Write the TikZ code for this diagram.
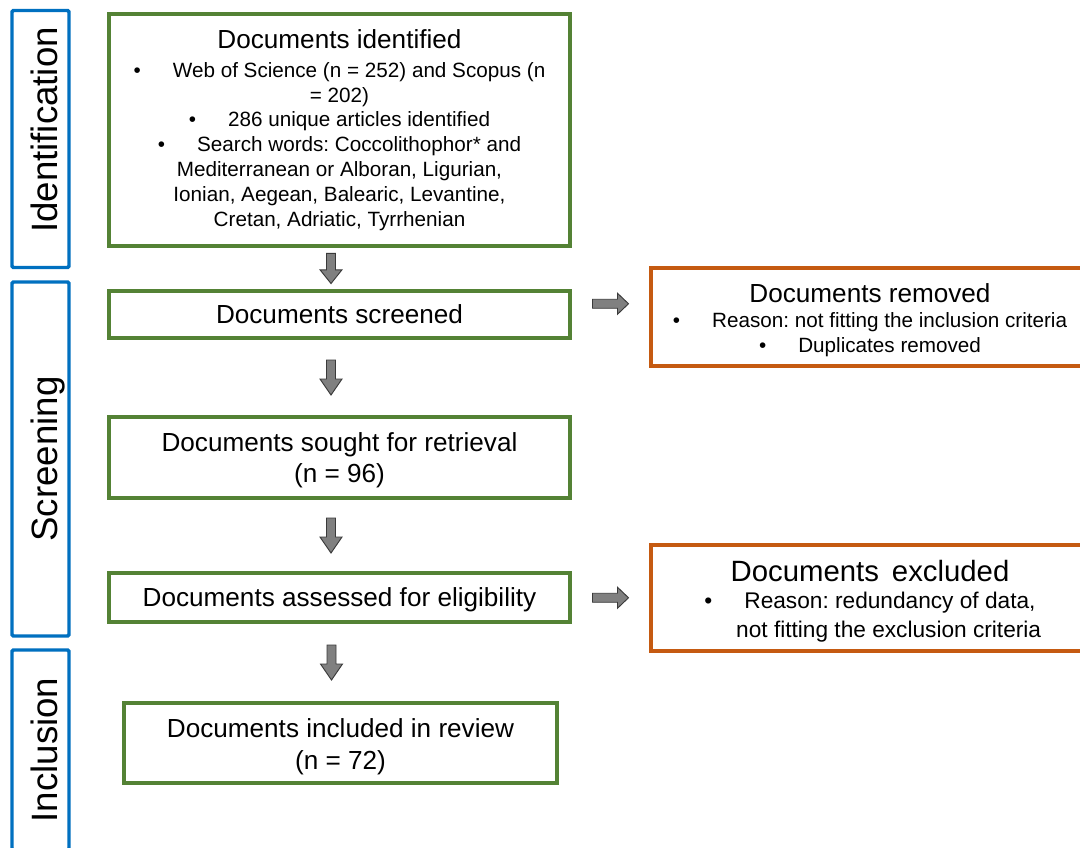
\documentclass[tikz,border=0pt]{standalone}
\usepackage{fontspec}
\setmainfont{Liberation Sans}
\usetikzlibrary{calc}
\definecolor{gbox}{HTML}{548235}
\definecolor{bbox}{HTML}{0070C0}
\definecolor{obox}{HTML}{C55A11}
\definecolor{agray}{HTML}{808080}
\definecolor{aedge}{HTML}{3A3A3A}
\tikzset{
  greenbox/.style={draw=gbox, line width=2.4pt, fill=white, align=center, inner sep=0pt, minimum width=345.75pt},
  orangebox/.style={draw=obox, line width=2.4pt, fill=white, align=center, inner sep=0pt, minimum width=328.5pt},
  phasebox/.style={draw=bbox, line width=2.6pt, rounded corners=1pt, fill=white, rotate=90, inner sep=0pt,
     minimum height=42.75pt, text height=25pt, text depth=0pt, font=\fontsize{27.5}{30}\selectfont},
  bigtext/.style={font=\fontsize{19.6}{24.75}\selectfont},
  darr/.pic={\draw[fill=agray, draw=aedge, line width=0.7pt, line join=miter]
     (-4.5,-17.5) -- (4.5,-17.5) -- (4.5,1.5) -- (11,1.5) -- (0,17.5) -- (-11,1.5) -- (-4.5,1.5) -- cycle;},
  rarr/.pic={\draw[fill=agray, draw=aedge, line width=0.7pt, line join=miter]
     (-18,-4.5) -- (7,-4.5) -- (7,-10.5) -- (18,0) -- (7,10.5) -- (7,4.5) -- (-18,4.5) -- cycle;}
}
\newcommand{\bul}{\textbullet\hspace{24pt}}
\frenchspacing
\begin{document}
\begin{tikzpicture}[x=0.75pt, y=-0.75pt]
\useasboundingbox (0,0) rectangle (1080,847);
\clip (0,0) rectangle (1080,847);
\fill[white] (0,0) rectangle (1080,847);

% phase labels
\node[phasebox, minimum width=192.75pt] (ph1) at (40.5,139) {\hspace*{13.5pt}Identification};
\node[phasebox, minimum width=265.5pt] (ph2) at (40.5,459) {Screening};
\node[phasebox, minimum width=150pt] (ph3) at (40.5,750) {Inclusion};

% main flow
\node[greenbox, minimum height=174pt, font=\fontsize{15.5}{18.6}\selectfont] (n1) at (339.5,130) {%
{\fontsize{19.6}{18.6}\selectfont Documents identified}\\[3pt]
\bul Web of Science (n = 252) and Scopus (n\\
= 202)\\
\bul 286 unique articles identified\\
\bul Search words: Coccolithophor* and\\
Mediterranean or Alboran, Ligurian,\\
Ionian, Aegean, Balearic, Levantine,\\
Cretan, Adriatic, Tyrrhenian};
\node[greenbox, bigtext, minimum height=35.25pt] (n2) at (339.5,314.5) {Documents screened};
\node[greenbox, minimum height=60.75pt, font=\fontsize{19.6}{23.25}\selectfont] (n3) at (339.5,457.5) {%
\mbox{}\\[-5.15pt]
Documents sought for retrieval\\(n = 96)};
\node[greenbox, bigtext, minimum height=36.75pt, text depth=0pt] (n4) at (339.5,597.5) {Documents assessed for eligibility};
\node[greenbox, minimum width=324.75pt, minimum height=60pt, font=\fontsize{19.6}{24.25}\selectfont] (n5) at (340.5,743) {%
\mbox{}\\[-4.7pt]
Documents included in review\\(n = 72)};

% side boxes
\node[orangebox, minimum height=73.5pt, font=\fontsize{15.5}{18.75}\selectfont] (r1) at (870,317) {%
\mbox{}\\[0.75pt]
{\fontsize{19.6}{18.75}\selectfont Documents removed}\\
\bul Reason: not fitting the inclusion criteria\\
\bul Duplicates removed};
\node[orangebox, minimum height=79.5pt, font=\fontsize{17}{21.75}\selectfont] (r2) at (870,598) {%
\mbox{}\\[-0.55pt]
{\fontsize{22}{21.75}\selectfont Documents\, excluded}\\[-1.75pt]
\bul Reason: redundancy of data,\\
\hspace*{28pt}not fitting the exclusion criteria};

% block arrows
\path ($(n1.south)!0.5!(n2.north)+(-8.5,0)$) pic[yscale=0.86] {darr};
\path ($(n2.south)!0.5!(n3.north)+(-8.5,0)$) pic {darr};
\path ($(n3.south)!0.5!(n4.north)+(-8.5,0)$) pic {darr};
\path ($(n4.south)!0.5!(n5.north)+(-8.5,0)$) pic {darr};
\path ($(n2.east)!0.5!(r1.west)+(0,-12)$) pic {rarr};
\path ($(n4.east)!0.5!(r2.west)$) pic {rarr};
\end{tikzpicture}
\end{document}
